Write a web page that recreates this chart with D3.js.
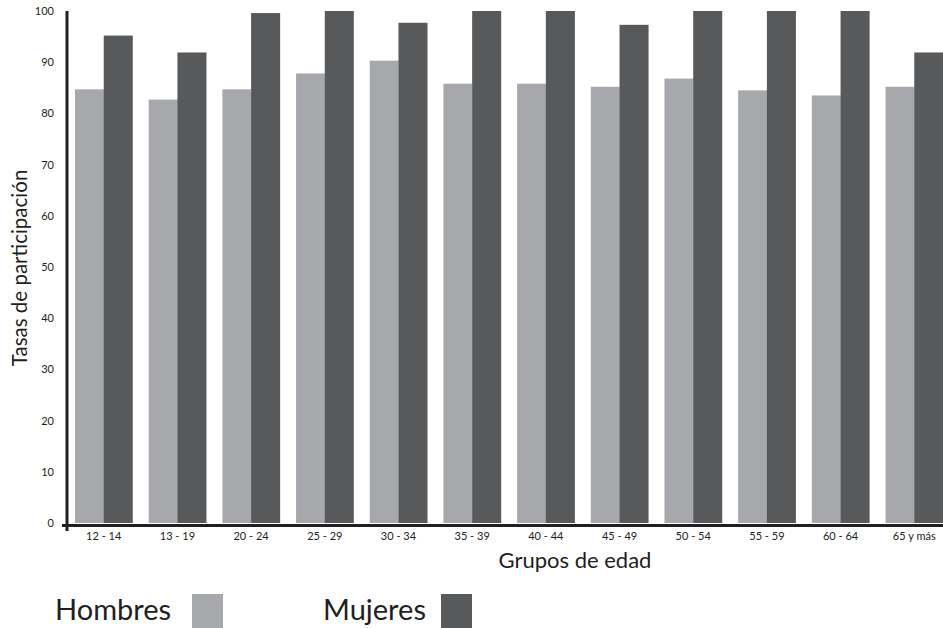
<!DOCTYPE html>
<html><head><meta charset="utf-8">
<script src="https://cdn.jsdelivr.net/npm/d3@7"></script>
<style>body{margin:0;background:#fff}svg{display:block}text{font-family:Lato,"Open Sans",sans-serif;fill:#231f20}</style>
</head><body><svg id="c" width="943" height="628"></svg>
<script>
const categories = ["12 - 14","13 - 19","20 - 24","25 - 29","30 - 34","35 - 39","40 - 44","45 - 49","50 - 54","55 - 59","60 - 64","65 y más"];
const hombres = [84.7, 82.7, 84.7, 87.8, 90.3, 85.8, 85.8, 85.2, 86.8, 84.5, 83.5, 85.2];
const mujeres = [95.2, 91.9, 99.6, 100, 97.7, 100, 100, 97.3, 100, 100, 100, 91.9];
const yTicks = [0,10,20,30,40,50,60,70,80,90,100];
const seriesNames = ["Hombres","Mujeres"];
const colors = ["#a7a8ab","#58595b"];

const svg = d3.select("#c");
const x = d3.scaleBand().domain(categories).range([75, 943]).paddingInner(0.22).paddingOuter(0);
const xs = d3.scaleBand().domain(seriesNames).range([0, x.bandwidth()]);
const y = d3.scaleLinear().domain([0,100]).range([523, 11]);

const g = svg.append("g");
categories.forEach((c,i)=>{
  [hombres[i], mujeres[i]].forEach((v,j)=>{
    g.append("rect").attr("x", x(c)+xs(seriesNames[j])).attr("width", xs.bandwidth()+0.3)
     .attr("y", y(v)).attr("height", y(0)-y(v)).attr("fill", colors[j]);
  });
});

// axes
const yAxis = svg.append("g").attr("transform","translate(67,0)")
  .call(d3.axisLeft(y).tickValues(yTicks).tickSize(0).tickPadding(13));
yAxis.select(".domain").remove();
yAxis.selectAll("text").style("font-size","11px").attr("fill","#231f20");
svg.append("line").attr("x1",67).attr("x2",67).attr("y1",y(100)).attr("y2",531).attr("stroke","#231f20").attr("stroke-width",3);

const xAxis = svg.append("g").attr("transform","translate(0,525)")
  .call(d3.axisBottom(x).tickSize(0).tickPadding(7));
xAxis.select(".domain").remove();
xAxis.selectAll("text").style("font-size","11px").attr("fill","#231f20");
svg.append("line").attr("x1",62).attr("x2",943).attr("y1",525.5).attr("y2",525.5).attr("stroke","#231f20").attr("stroke-width",3);

svg.append("text").attr("x",575).attr("y",568).attr("text-anchor","middle").style("font-size","22px").text("Grupos de edad");
svg.append("text").attr("transform","translate(27,268) rotate(-90)").attr("text-anchor","middle").style("font-size","20.5px").text("Tasas de participación");

// legend
const legX = [55, 323];
const boxX = [192, 441];
seriesNames.forEach((n,j)=>{
  svg.append("text").attr("x",legX[j]).attr("y",620).style("font-size","29px").text(n);
  svg.append("rect").attr("x",boxX[j]).attr("y",594).attr("width",31).attr("height",34).attr("fill",colors[j]);
});
</script></body></html>
